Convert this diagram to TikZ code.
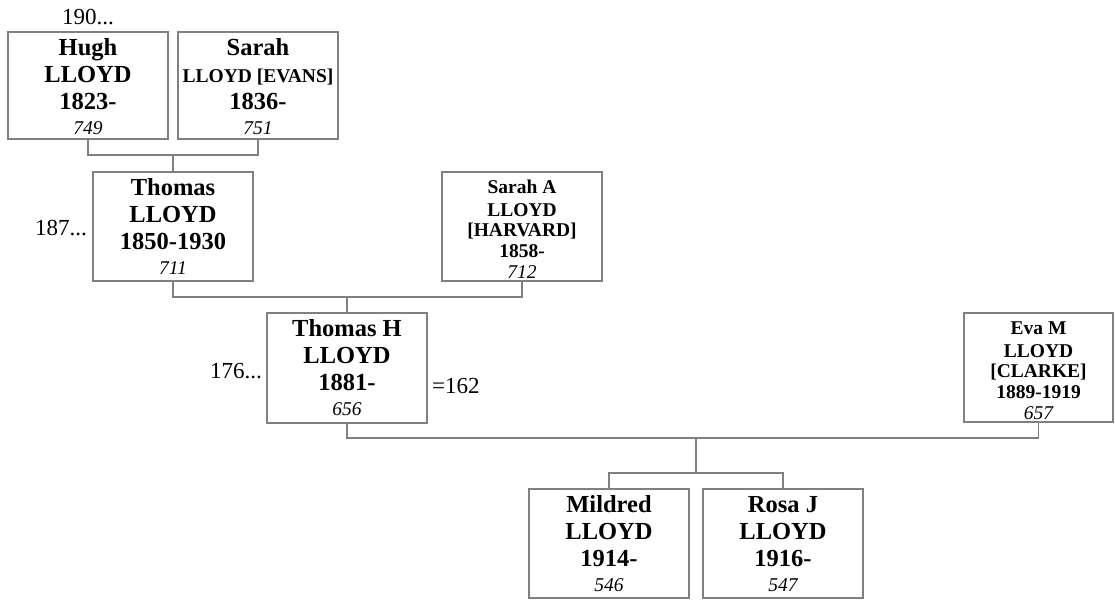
\documentclass[tikz,border=0pt]{standalone}
\usepackage{fontspec}
\setmainfont{Liberation Serif}
\definecolor{linegray}{RGB}{128,128,128}
\newcommand\bigperson[8]{%
  \node[pbox,minimum height=#4pt] (#1) at (#2,#3) {};
  \node[big,yshift=-23.5pt] (#1-1) at (#1.north) {#5};
  \node[big,yshift=-50.5pt] (#1-2) at (#1.north) {#6};
  \node[big,yshift=-77.5pt] (#1-3) at (#1.north) {#7};
  \node[num,yshift=-102pt] (#1-4) at (#1.north) {#8};
}
\newcommand\smallperson[9]{%
  \node[pbox,minimum width=#4pt,minimum height=109pt] (#1) at (#2,#3) {};
  \node[sml,yshift=-21.5pt] (#1-1) at (#1.north) {#5};
  \node[sml,yshift=-44.5pt] (#1-2) at (#1.north) {#6};
  \node[sml,yshift=-64.5pt] (#1-3) at (#1.north) {#7};
  \node[sml,yshift=-85.5pt] (#1-4) at (#1.north) {#8};
  \node[num,yshift=-106pt] (#1-5) at (#1.north) {#9};
}
\begin{document}
\begin{tikzpicture}[x=1pt,y=-1pt,
  pbox/.style={draw=linegray, line width=1.3pt, minimum width=160pt, inner sep=0pt, outer sep=0pt, anchor=north west},
  big/.style={font=\fontsize{24.5}{24.5}\selectfont\bfseries, anchor=base, inner sep=0pt},
  sml/.style={font=\fontsize{19.5}{19.5}\selectfont\bfseries, anchor=base, inner sep=0pt},
  num/.style={font=\fontsize{19.5}{19.5}\selectfont\itshape, anchor=base, inner sep=0pt},
  side/.style={font=\fontsize{23}{23}\selectfont, inner sep=0pt},
  conn/.style={draw=linegray, line width=1.3pt}]
\useasboundingbox (0,0) rectangle (1115,599);

% generation 1
\bigperson{hugh}{8}{32}{107}{Hugh}{LLOYD}{1823-}{749}
\node[pbox,minimum height=107pt] (sarah) at (178,32) {};
\node[big,yshift=-23.5pt] (sarah-1) at (sarah.north) {Sarah};
\node[sml,yshift=-51pt] (sarah-2) at (sarah.north) {LLOYD [EVANS]};
\node[big,yshift=-77.5pt] (sarah-3) at (sarah.north) {1836-};
\node[num,yshift=-102pt] (sarah-4) at (sarah.north) {751};

% generation 2
\bigperson{thomas}{93}{172}{109}{Thomas}{LLOYD}{1850-1930}{711}
\smallperson{sarahA}{442}{172}{160}{Sarah A}{LLOYD}{[HARVARD]}{1858-}{712}

% generation 3
\bigperson{thomasH}{267}{313}{110}{Thomas H}{LLOYD}{1881-}{656}
\smallperson{eva}{964}{313}{149}{Eva M}{LLOYD}{[CLARKE]}{1889-1919}{657}

% generation 4
\bigperson{mildred}{529}{489}{109}{Mildred}{LLOYD}{1914-}{546}
\bigperson{rosa}{703}{489}{109}{Rosa J}{LLOYD}{1916-}{547}

% side labels
\node[side, anchor=base] (l190) at (hugh.north |- 0,25) {190...};
\node[side, anchor=base east] (l187) at (87,235) {187...};
\node[side, anchor=base east] (l176) at (262,378) {176...};
\node[side, anchor=base west] (l162) at (432,393) {=162};

% connectors
\draw[conn] (hugh.south) -- ++(0,16) coordinate (c1l) -| (sarah.south);
\draw[conn] (thomas.north) -- (thomas.north |- c1l);
\draw[conn] (thomas.south) -- ++(0,16) coordinate (c2l) -| (sarahA.south);
\draw[conn] (thomasH.north) -- (thomasH.north |- c2l);
\draw[conn] (thomasH.south) -- ++(0,15) coordinate (c3l) -| (eva.south);
\draw[conn] (mildred.north) -- ++(0,-16) coordinate (c4l) -| (rosa.north);
\path (mildred.north) -- (rosa.north) coordinate[pos=0.5] (c4m);
\draw[conn] (c4m |- c3l) -- (c4m |- c4l);
\end{tikzpicture}
\end{document}
